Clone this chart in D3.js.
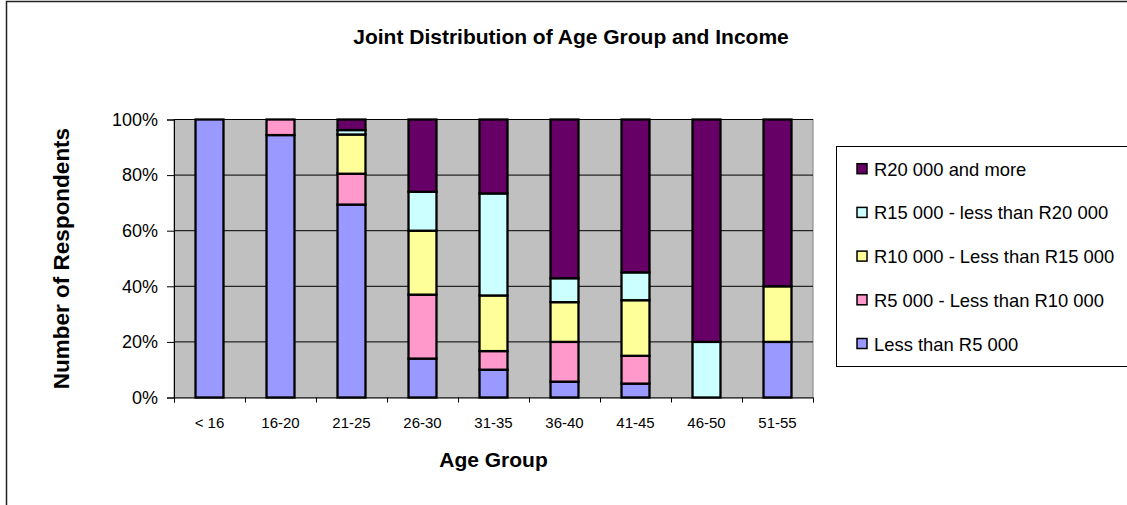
<!DOCTYPE html>
<html>
<head>
<meta charset="utf-8">
<script src="https://cdn.jsdelivr.net/npm/d3@7"></script>
<style>
  html, body { margin: 0; padding: 0; background: #fff; }
  svg { display: block; font-family: "Liberation Sans", Arial, sans-serif; }
</style>
</head>
<body>
<svg id="chart" width="1127" height="505"></svg>
<script>
// Age groups along the x axis
const ageGroups = ["< 16", "16-20", "21-25", "26-30", "31-35", "36-40", "41-45", "46-50", "51-55"];

// Share of respondents (%) in each income band, per age group
const lessThanR5000   = [100, 94.4, 69.4, 14, 10,   5.7, 5,  0,  20];
const r5000to10000    = [0,   5.6,  11.1, 23, 6.7,  14.3, 10, 0,  0];
const r10000to15000   = [0,   0,    14.1, 23, 20,   14.3, 20, 0,  20];
const r15000to20000   = [0,   0,    1.6,  14, 36.7, 8.6, 10, 20, 0];
const r20000andMore   = [0,   0,    3.8,  26, 26.6, 57.1, 55, 80, 60];

const seriesNames = [
  "Less than R5 000",
  "R5 000 - Less than R10 000",
  "R10 000 - Less than R15 000",
  "R15 000 - less than R20 000",
  "R20 000 and more"
];
const seriesColors = ["#9999FF", "#FF99CC", "#FFFF99", "#CCFFFF", "#660066"];
const yTicks = [0, 20, 40, 60, 80, 100];

const seriesValues = [lessThanR5000, r5000to10000, r10000to15000, r15000to20000, r20000andMore];

// Build a row table for d3.stack
const rows = ageGroups.map((g, i) => {
  const r = { group: g };
  seriesNames.forEach((s, k) => { r[s] = seriesValues[k][i]; });
  return r;
});

const svg = d3.select("#chart");

// Chart frame
svg.append("rect")
  .attr("x", 6.5).attr("y", 1.5)
  .attr("width", 1140).attr("height", 520)
  .attr("fill", "#fff").attr("stroke", "#222").attr("stroke-width", 1.5);

const plot = { left: 174, right: 813, top: 119.5, bottom: 397.5 };

const x = d3.scaleBand()
  .domain(ageGroups)
  .range([plot.left, plot.right])
  .paddingInner(0.606)
  .paddingOuter(0.303);

const y = d3.scaleLinear().domain([0, 100]).range([plot.bottom, plot.top]);

// Plot area background
svg.append("rect")
  .attr("x", plot.left).attr("y", plot.top)
  .attr("width", plot.right - plot.left).attr("height", plot.bottom - plot.top)
  .attr("fill", "#C0C0C0").attr("stroke", "#808080").attr("stroke-width", 1);

// Horizontal gridlines
svg.append("g")
  .selectAll("line")
  .data(yTicks.filter(t => t > 0))
  .join("line")
  .attr("x1", plot.left).attr("x2", plot.right)
  .attr("y1", d => y(d)).attr("y2", d => y(d))
  .attr("stroke", "#000").attr("stroke-width", 1);

// Stacked bars
const stack = d3.stack().keys(seriesNames);
const layers = stack(rows);

svg.append("g")
  .selectAll("g")
  .data(layers)
  .join("g")
  .attr("fill", (d, i) => seriesColors[i])
  .selectAll("rect")
  .data(d => d.filter(p => p[1] - p[0] > 0))
  .join("rect")
  .attr("x", d => x(d.data.group))
  .attr("width", x.bandwidth())
  .attr("y", d => y(d[1]))
  .attr("height", d => y(d[0]) - y(d[1]))
  .attr("stroke", "#000")
  .attr("stroke-width", 2.3);

// Y axis
const yAxis = svg.append("g")
  .attr("transform", `translate(${plot.left},0)`)
  .call(d3.axisLeft(y).tickValues(yTicks).tickSize(7).tickPadding(9).tickFormat(d => d + "%"));
yAxis.select(".domain").attr("stroke", "#000");
yAxis.selectAll(".tick line").attr("stroke", "#000");
yAxis.selectAll("text")
  .attr("font-family", "'Liberation Sans', Arial, sans-serif")
  .attr("font-size", 18).attr("fill", "#000");

// X axis: ticks on category boundaries, labels at band centres
const xEdges = d3.scaleLinear().domain([0, ageGroups.length]).range([plot.left, plot.right]);
const xAxis = svg.append("g")
  .attr("transform", `translate(0,${plot.bottom})`)
  .call(d3.axisBottom(xEdges).ticks(ageGroups.length).tickSize(5).tickFormat(""));
xAxis.select(".domain").attr("stroke", "#000");
xAxis.selectAll(".tick line").attr("stroke", "#000");

svg.append("g")
  .selectAll("text")
  .data(ageGroups)
  .join("text")
  .attr("x", d => x(d) + x.bandwidth() / 2)
  .attr("y", 428)
  .attr("text-anchor", "middle")
  .attr("font-size", 15)
  .attr("fill", "#000")
  .text(d => d);

// Titles
svg.append("text")
  .attr("x", 571).attr("y", 44)
  .attr("text-anchor", "middle")
  .attr("font-size", 21).attr("font-weight", "bold")
  .text("Joint Distribution of Age Group and Income");

svg.append("text")
  .attr("x", (plot.left + plot.right) / 2).attr("y", 467)
  .attr("text-anchor", "middle")
  .attr("font-size", 21).attr("font-weight", "bold")
  .text("Age Group");

svg.append("text")
  .attr("transform", `translate(69,${(plot.top + plot.bottom) / 2}) rotate(-90)`)
  .attr("text-anchor", "middle")
  .attr("font-size", 22.5).attr("font-weight", "bold")
  .text("Number of Respondents");

// Legend
const legend = svg.append("g");
legend.append("rect")
  .attr("x", 836.5).attr("y", 146.5)
  .attr("width", 320).attr("height", 220)
  .attr("fill", "#fff").attr("stroke", "#000").attr("stroke-width", 1);

const legendOrder = d3.range(seriesNames.length).reverse();
const item = legend.selectAll("g.item")
  .data(legendOrder)
  .join("g")
  .attr("class", "item")
  .attr("transform", (d, i) => `translate(0,${175.7 + i * 43.7})`);

item.append("rect")
  .attr("x", 857).attr("y", -12)
  .attr("width", 10).attr("height", 10)
  .attr("fill", d => seriesColors[d])
  .attr("stroke", "#000").attr("stroke-width", 1.5);

item.append("text")
  .attr("x", 874).attr("y", 0)
  .attr("font-size", 18.4)
  .attr("fill", "#000")
  .text(d => seriesNames[d]);
</script>
</body>
</html>
